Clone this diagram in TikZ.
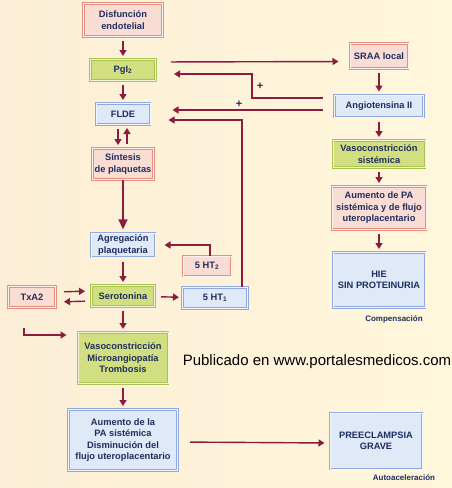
\documentclass[tikz,border=0pt]{standalone}
\usepackage{fontspec}
\setmainfont{Liberation Sans}
\usetikzlibrary{arrows.meta,calc}
\definecolor{cFondo}{HTML}{FCEED6}
\definecolor{cFondoB}{HTML}{FFF7DC}
\definecolor{cTexto}{HTML}{1E2E5E}
\definecolor{cFlecha}{HTML}{8C1B3F}
\definecolor{cRosa}{HTML}{E58F80}
\definecolor{cRosaBg}{HTML}{F9DCD3}
\definecolor{cAzul}{HTML}{8FA9DC}
\definecolor{cAzulBg}{HTML}{DFE9F7}
\definecolor{cVerde}{HTML}{A9C352}
\definecolor{cVerdeBg}{HTML}{D1DF80}
\tikzset{
  caja/.style={draw, align=center, font=\bfseries\fontsize{9.3}{11.5}\selectfont,
    text=cTexto, inner sep=2pt, line width=1pt, double distance=0.7pt},
  rosa/.style={caja, draw=cRosa, fill=cRosaBg, double=cRosaBg!40!white},
  azul/.style={caja, draw=cAzul, fill=cAzulBg, double=cAzulBg!40!white},
  verde/.style={caja, draw=cVerde, fill=cVerdeBg, double=cVerdeBg!30!white},
  flecha/.style={-{Triangle[length=6pt,width=7pt]}, draw=cFlecha, line width=1.4pt},
  corta/.style={flecha, shorten <=4pt, shorten >=3pt},
  nota/.style={font=\bfseries\fontsize{8}{9}\selectfont, text=cTexto},
  signo/.style={font=\bfseries\fontsize{11}{11}\selectfont, text=cTexto},
}
\begin{document}
\begin{tikzpicture}[x=1pt, y=-1pt]
  \shade[left color=cFondo, right color=cFondoB] (0,0) rectangle (452,488);
  \useasboundingbox (0,0) rectangle (452,488);
  % columna izquierda
  \node[rosa, minimum width=79pt, minimum height=33pt]  (dis)   at (123,20)  {Disfunción\\endotelial};
  \node[verde, minimum width=65pt, minimum height=21pt] (pgi)   at (123,70)  {PgI\textsubscript{2}};
  \node[azul, minimum width=54pt, minimum height=21pt]  (flde)  at (123,114) {FLDE};
  \node[rosa, minimum width=59pt, minimum height=31pt]  (sint)  at (123,164) {Síntesis\\de plaquetas};
  \node[azul, minimum width=64pt, minimum height=23pt]  (agr)   at (123,245) {Agregación\\plaquetaria};
  \node[rosa, minimum width=48pt, minimum height=20pt]  (ht2)   at (207,266) {5 HT\textsubscript{2}};
  \node[rosa, minimum width=47pt, minimum height=21pt]  (txa)   at (32,297)  {TxA2};
  \node[verde, minimum width=63pt, minimum height=21pt] (sero)  at (123,296) {Serotonina};
  \node[azul, minimum width=65pt, minimum height=21pt]  (ht1)   at (215,298) {5 HT\textsubscript{1}};
  \node[verde, minimum width=90pt, minimum height=51pt] (vaso)  at (123,358) {Vasoconstricción\\Microangiopatía\\Trombosis};
  \node[azul, minimum width=109pt, minimum height=61pt] (aumla) at (123,440) {Aumento de la\\PA sistémica\\Disminución del\\flujo uteroplacentario};
  % columna derecha
  \node[rosa, minimum width=58pt, minimum height=25pt]  (sraa)  at (379,56)  {SRAA local};
  \node[azul, minimum width=89pt, minimum height=22pt]  (ang)   at (379,106) {Angiotensina II};
  \node[verde, minimum width=92pt, minimum height=27pt] (vsis)  at (379,154) {Vasoconstricción\\sistémica};
  \node[rosa, minimum width=94pt, minimum height=43pt]  (aum)   at (379,208) {Aumento de PA\\sistémica y de flujo\\uteroplacentario};
  \node[azul, minimum width=92pt, minimum height=55pt]  (hie)   at (379,280) {HIE\\SIN PROTEINURIA};
  \node[azul, minimum width=92pt, minimum height=56pt]  (pree)  at (376,441) {PREECLAMPSIA\\GRAVE};
  \node[nota] (comp) at (394,319) {Compensación};
  \node[nota] (auto) at (404,478) {Autoaceleración};
  \node[font=\fontsize{15}{17}\selectfont] (pub) at (317,362) {Publicado en www.portalesmedicos.com};
  % flechas
  \draw[corta] (dis) -- (pgi);
  \draw[corta] (pgi) -- (flde);
  \draw[corta] ([xshift=-5]flde.south) -- ([xshift=-5]sint.north);
  \draw[corta] ([xshift=4]sint.north) -- ([xshift=4]flde.south);
  \draw[flecha, -{Triangle[length=10pt,width=9pt]}, shorten >=3pt] (sint) -- (agr);
  \draw[flecha, shorten >=9pt] ([xshift=3]ht2.north) |- (agr.east);
  \draw[corta] (agr) -- (sero);
  \draw[flecha, shorten <=8pt, shorten >=6pt] ([yshift=5]txa.east) -- ([yshift=5]sero.west);
  \draw[flecha, shorten <=6pt, shorten >=8pt] ([yshift=-5]sero.west) -- ([yshift=-5]txa.east);
  \draw[flecha, shorten <=6pt, shorten >=3pt] (sero) -- (ht1);
  \draw[flecha, shorten >=18pt] ([xshift=27]ht1.north) |- ([yshift=-6]flde.east);
  \draw[corta] (sero) -- (vaso);
  \coordinate (gancho) at (24,328);
  \draw[flecha, shorten >=11pt] (gancho) |- ([yshift=-3]vaso.north west);
  \draw[corta] (vaso) -- (aumla);
  \draw[flecha, shorten <=12pt, shorten >=5pt] ([yshift=-2]aumla.east) -- ([yshift=-2]pree.west);
  \draw[flecha, shorten <=15pt, shorten >=11pt] ([yshift=8]pgi.east) -- ([yshift=-5.5]sraa.west);
  \coordinate (codo) at (252,74);
  \draw[flecha, shorten <=11pt, shorten >=18pt] ([yshift=8]ang.west) -| (codo) -- ([yshift=-4]pgi.east);
  \node[signo] (mas1) at (260,86) {+};
  \draw[flecha, shorten <=11pt, shorten >=22pt] ([yshift=-4]ang.west) -- ([yshift=4]flde.east);
  \node[signo] (mas2) at (239,104) {+};
  \draw[corta] (sraa) -- (ang);
  \draw[corta] (ang) -- (vsis);
  \draw[corta] (vsis) -- (aum);
  \draw[corta] (aum) -- (hie);
\end{tikzpicture}
\end{document}
